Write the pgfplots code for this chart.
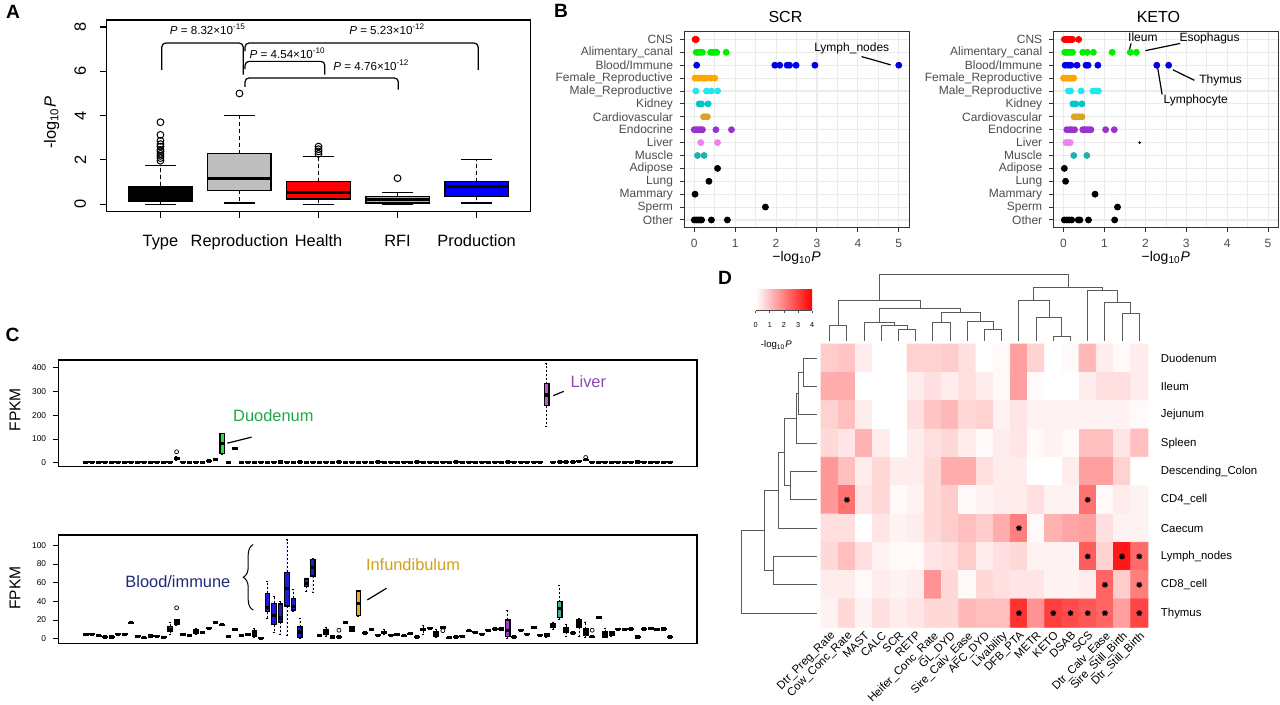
\documentclass[border=0pt]{standalone}
\usepackage{fontspec}
\setmainfont{Liberation Sans}
\usepackage{pgfplots}
\pgfplotsset{compat=1.18}
\usepgfplotslibrary{statistics}
\usetikzlibrary{decorations.pathreplacing,plotmarks}

\definecolor{g20}{HTML}{333333}
\definecolor{g30}{HTML}{4D4D4D}
\definecolor{g92}{HTML}{EBEBEB}
\definecolor{dend}{HTML}{5A5A5A}
\definecolor{aGray}{HTML}{BEBEBE}
\definecolor{aOra}{HTML}{FFA500}
\definecolor{cCNS}{HTML}{FF0000}
\definecolor{cAli}{HTML}{00EE00}
\definecolor{cBlo}{HTML}{0000E6}
\definecolor{cFem}{HTML}{FFA500}
\definecolor{cMal}{HTML}{22E6F0}
\definecolor{cKid}{HTML}{00C5CD}
\definecolor{cCar}{HTML}{DAA520}
\definecolor{cEnd}{HTML}{9A32CD}
\definecolor{cLiv}{HTML}{EE82EE}
\definecolor{cMus}{HTML}{20B2AA}
\definecolor{xGrn}{HTML}{33DD33}
\definecolor{xLiv}{HTML}{C455D6}
\definecolor{xBrn}{HTML}{7A2E2E}
\definecolor{xDgr}{HTML}{2CA02C}
\definecolor{xBlu}{HTML}{1C1CD6}
\definecolor{xOra}{HTML}{F5A623}
\definecolor{xOlv}{HTML}{6E5A3A}
\definecolor{xTea}{HTML}{2A9D8F}
\definecolor{xPur}{HTML}{A03CD0}
\definecolor{xTeb}{HTML}{3AB0A6}
\definecolor{tGrn}{HTML}{1DA84B}
\definecolor{tPur}{HTML}{8E4AB5}
\definecolor{tNav}{HTML}{1F2A78}
\definecolor{tGld}{HTML}{D4A017}

\newcommand\fsA{\fontsize{8.2}{9.8}\selectfont}
\newcommand\fsP{\fontsize{5.8}{7}\selectfont}
\newcommand\fsB{\fontsize{6}{7.2}\selectfont}
\newcommand\fsC{\fontsize{4.2}{5}\selectfont}
\newcommand\fsD{\fontsize{5.7}{6.8}\selectfont}

% one box of panel C: position, lower whisker, Q1, median, Q3, upper whisker
\newcommand\bx[7][black]{\addplot[draw=black, line width=0.7pt, fill=#1,
  boxplot prepared={draw position=#2, lower whisker=#3, lower quartile=#4,
  median=#5, upper quartile=#6, upper whisker=#7}] coordinates {};}

\pgfplotsset{
  /pgf/number format/assume math mode=true,
  bpan/.style={anchor=north west, scale only axis, width=112.5pt, height=98pt,
    xmin=-0.25, xmax=5.25, ymin=0.4, ymax=15.6,
    xtick={0,1,2,3,4,5}, minor xtick={0.5,1.5,2.5,3.5,4.5}, ytick={1,...,15},
    yticklabels={Other,Sperm,Mammary,Lung,Adipose,Muscle,Liver,Endocrine,Cardiovascular,Kidney,Male\_Reproductive,Female\_Reproductive,Blood/Immune,Alimentary\_canal,CNS},
    grid=both, major grid style={g92, line width=0.55pt}, minor grid style={g92, line width=0.3pt},
    axis line style={g20, line width=0.5pt}, tick style={g20, line width=0.5pt},
    tick align=outside, major tick length=2pt, minor tick length=0pt,
    xtick pos=bottom, ytick pos=left,
    ticklabel style={font=\fsB, text=g30}, clip=false,
    every axis plot/.append style={only marks, mark=*, mark size=1.5pt}},
  cpan/.style={anchor=north west, scale only axis, width=319.1pt,
    xmin=-3.14, xmax=95.14, xtick=\empty, ytick pos=left, tick align=outside,
    major tick length=2.8pt, tick style={black, line width=0.4pt},
    axis line style={line width=0.7pt}, yticklabel style={font=\fsC}, clip=false,
    boxplot/draw direction=y,
    boxplot/box extend=0.68, boxplot/whisker extend=0.4,
    boxplot/every whisker/.style={dash pattern=on 1pt off 1pt, line width=0.3pt},
    boxplot/every median/.style={line width=1.6pt}},
}

\begin{document}
\begin{tikzpicture}
\useasboundingbox (0,0) rectangle (640pt,-352.5pt);
\fill[white] (0,0) rectangle (640pt,-352.5pt);

\node[font=\bfseries\fontsize{9.6}{11}\selectfont] at (6.5pt,-5.9pt) {A};
\node[font=\bfseries\fontsize{9.6}{11}\selectfont] at (280.5pt,-5.5pt) {B};
\node[font=\bfseries\fontsize{9.6}{11}\selectfont] at (6.3pt,-167.5pt) {C};
\node[font=\bfseries\fontsize{9.6}{11}\selectfont] at (362.5pt,-139pt) {D};

% ---------------- A
\begin{axis}[at={(53.35pt,-10pt)}, anchor=north west, scale only axis,
  width=211.8pt, height=95.6pt,
  xmin=0.32, xmax=5.68, ymin=-0.32, ymax=8.32,
  xtick={1,2,3,4,5}, xticklabels={Type,Reproduction,Health,RFI,Production},
  ytick={0,2,4,6,8}, xtick pos=bottom, ytick pos=left,
  tick align=outside, major tick length=3.3pt,
  tick style={black, line width=0.6pt}, axis line style={line width=0.6pt},
  ticklabel style={font=\fsA},
  xticklabel style={yshift=-5pt},
  yticklabel style={rotate=90, anchor=south, yshift=3.5pt},
  clip=false,
  boxplot/draw direction=y,
  boxplot/box extend=0.8, boxplot/whisker extend=0,
  boxplot/every whisker/.style={dash pattern=on 2pt off 1.5pt},
  boxplot/every median/.style={line width=1.5pt}]
\addplot[draw=black, line width=0.6pt, fill=black, boxplot prepared={draw position=1,
  lower whisker=0, lower quartile=0.12, median=0.35, upper quartile=0.8, upper whisker=1.75}] coordinates {};
\addplot[draw=black, line width=0.6pt, fill=aGray, boxplot prepared={draw position=2,
  lower whisker=0.05, lower quartile=0.62, median=1.14, upper quartile=2.27, upper whisker=3.99}] coordinates {};
\addplot[draw=black, line width=0.6pt, fill=red, boxplot prepared={draw position=3,
  lower whisker=0, lower quartile=0.23, median=0.54, upper quartile=1.02, upper whisker=2.15}] coordinates {};
\addplot[draw=black, line width=0.6pt, fill=aOra, boxplot prepared={draw position=4,
  lower whisker=0, lower quartile=0.05, median=0.2, upper quartile=0.35, upper whisker=0.53}] coordinates {};
\addplot[draw=black, line width=0.6pt, fill=blue, boxplot prepared={draw position=5,
  lower whisker=0.05, lower quartile=0.35, median=0.8, upper quartile=1.02, upper whisker=2.0}] coordinates {};
\addplot[only marks, mark=-, mark size=7.9pt, mark options={line width=0.6pt}] coordinates
  {(1,0) (1,1.75) (2,0.05) (2,3.99) (3,0) (3,2.15) (4,0) (4,0.53) (5,0.05) (5,2.0)};
\addplot[only marks, mark=o, mark size=1.7pt, mark options={line width=0.5pt}] coordinates
  {(1,1.96) (1,2.08) (1,2.18) (1,2.27) (1,2.38) (1,2.45) (1,2.6) (1,2.71) (1,2.86) (1,3.13) (1,3.7)
   (2,5.0) (3,2.27) (3,2.38) (3,2.48) (3,2.6) (4,1.17)};
\draw[line width=0.6pt, rounded corners=2pt] (axis cs:1.017,6.07) -- (axis cs:1.017,7.28) -- (axis cs:2.047,7.28) -- (axis cs:2.047,5.85);
\draw[line width=0.6pt, rounded corners=2pt] (axis cs:2.07,6.9) -- (axis cs:2.07,7.28) -- (axis cs:5.02,7.28) -- (axis cs:5.02,6.07);
\draw[line width=0.6pt, rounded corners=2pt] (axis cs:2.07,6.1) -- (axis cs:2.07,6.45) -- (axis cs:3.08,6.45) -- (axis cs:3.08,5.85);
\draw[line width=0.6pt, rounded corners=2pt] (axis cs:2.07,5.3) -- (axis cs:2.07,5.70) -- (axis cs:4.01,5.70) -- (axis cs:4.01,5.17);
\node[font=\fsP] at (axis cs:1.6,7.91) {\textit{P} = 8.32×10\textsuperscript{-15}};
\node[font=\fsP] at (axis cs:3.87,7.91) {\textit{P} = 5.23×10\textsuperscript{-12}};
\node[font=\fsP] at (axis cs:2.61,6.82) {\textit{P} = 4.54×10\textsuperscript{-10}};
\node[font=\fsP] at (axis cs:3.67,6.27) {\textit{P} = 4.76×10\textsuperscript{-12}};
\node[font=\fsA, rotate=90] at (axis cs:-0.376,3.67) {-log\textsubscript{10}\textit{P}};
\end{axis}

% ---------------- B : SCR
\begin{axis}[bpan, at={(342pt,-15.85pt)}]
\addplot[cCNS] coordinates {(0.02,15) (0.05,15)};
\addplot[cAli] coordinates {(0.05,14) (0.1,14) (0.15,14) (0.2,14) (0.4,14) (0.45,14) (0.5,14) (0.55,14) (0.78,14)};
\addplot[cBlo] coordinates {(0.06,13) (1.97,13) (2.09,13) (2.27,13) (2.33,13) (2.49,13) (2.95,13) (5.0,13)};
\addplot[cFem] coordinates {(0.02,12) (0.07,12) (0.12,12) (0.2,12) (0.25,12) (0.3,12) (0.4,12) (0.5,12)};
\addplot[cMal] coordinates {(0.04,11) (0.3,11) (0.42,11) (0.57,11)};
\addplot[cKid] coordinates {(0.12,10) (0.18,10) (0.34,10)};
\addplot[cCar] coordinates {(0.23,9) (0.28,9) (0.32,9)};
\addplot[cEnd] coordinates {(0.0,8) (0.05,8) (0.1,8) (0.15,8) (0.2,8) (0.53,8) (0.91,8)};
\addplot[cLiv] coordinates {(0.16,7) (0.57,7)};
\addplot[cMus] coordinates {(0.08,6) (0.24,6)};
\addplot[black] coordinates {(0.57,5)};
\addplot[black] coordinates {(0.36,4)};
\addplot[black] coordinates {(0.02,3)};
\addplot[black] coordinates {(1.74,2)};
\addplot[black] coordinates {(0,1) (0.05,1) (0.1,1) (0.15,1) (0.18,1) (0.42,1) (0.81,1)};
\node[font=\fontsize{8}{9.6}\selectfont] at (axis cs:2.23,16.74) {SCR};
\node[font=\fontsize{7}{8.4}\selectfont] at (axis cs:2.5,-1.95) {−log\textsubscript{10}\textit{P}};
\node[font=\fontsize{6}{7.2}\selectfont] at (axis cs:3.85,14.31) {Lymph\_nodes};
\draw[line width=0.6pt] (axis cs:4.09,13.67) -- (axis cs:4.80,13.03);
\end{axis}

% ---------------- B : KETO
\begin{axis}[bpan, at={(526.65pt,-15.85pt)}]
\addplot[cCNS] coordinates {(0.02,15) (0.06,15) (0.1,15) (0.14,15) (0.18,15) (0.22,15) (0.37,15)};
\addplot[cAli] coordinates {(0.03,14) (0.08,14) (0.12,14) (0.17,14) (0.22,14) (0.47,14) (0.58,14) (0.73,14) (1.19,14) (1.63,14) (1.78,14)};
\addplot[cBlo] coordinates {(0.04,13) (0.12,13) (0.18,13) (0.33,13) (0.55,13) (0.6,13) (0.84,13) (2.28,13) (2.57,13)};
\addplot[cFem] coordinates {(0.0,12) (0.05,12) (0.1,12) (0.15,12) (0.2,12) (0.25,12)};
\addplot[cMal] coordinates {(0.12,11) (0.17,11) (0.43,11) (0.72,11) (0.8,11) (0.85,11)};
\addplot[cKid] coordinates {(0.23,10) (0.3,10) (0.45,10)};
\addplot[cCar] coordinates {(0.26,9) (0.32,9) (0.38,9) (0.45,9)};
\addplot[cEnd] coordinates {(0.08,8) (0.15,8) (0.2,8) (0.27,8) (0.47,8) (0.52,8) (0.57,8) (0.62,8) (0.67,8) (1.03,8) (1.24,8)};
\addplot[cLiv] coordinates {(0.06,7) (0.1,7) (0.16,7)};
\addplot[black, mark size=0.4pt] coordinates {(1.86,7)};
\addplot[cMus] coordinates {(0.25,6) (0.57,6)};
\addplot[black] coordinates {(0.02,5)};
\addplot[black] coordinates {(0.05,4)};
\addplot[black] coordinates {(0.77,3)};
\addplot[black] coordinates {(1.32,2)};
\addplot[black] coordinates {(0.02,1) (0.08,1) (0.14,1) (0.2,1) (0.36,1) (0.4,1) (0.61,1) (1.25,1)};
\node[font=\fontsize{8}{9.6}\selectfont] at (axis cs:2.32,16.74) {KETO};
\node[font=\fontsize{7}{8.4}\selectfont] at (axis cs:2.5,-1.95) {−log\textsubscript{10}\textit{P}};
\node[font=\fontsize{6}{7.2}\selectfont] at (axis cs:1.94,15.15) {Ileum};
\draw[line width=0.6pt] (axis cs:1.65,14.69) -- (axis cs:1.61,14.19);
\node[font=\fontsize{6}{7.2}\selectfont] at (axis cs:3.57,15.08) {Esophagus};
\draw[line width=0.6pt] (axis cs:2.85,14.69) -- (axis cs:2.0,14.13);
\node[font=\fontsize{6}{7.2}\selectfont] at (axis cs:3.84,11.8) {Thymus};
\draw[line width=0.6pt] (axis cs:2.67,12.65) -- (axis cs:3.2,11.83);
\node[font=\fontsize{6}{7.2}\selectfont] at (axis cs:3.23,10.29) {Lymphocyte};
\draw[line width=0.6pt] (axis cs:2.30,12.83) -- (axis cs:2.41,10.73);
\end{axis}

% ---------------- C : top (liver gene)
\begin{axis}[cpan, at={(29.4pt,-180pt)}, height=53.35pt,
  ymin=-17, ymax=433, ytick={0,100,200,300,400}]
\bx{1}{0}{0.2}{1}{2}{4}\bx{2}{0}{0.2}{1}{2}{4}\bx{3}{0}{0.2}{1}{2}{4}\bx{4}{0}{0.2}{1}{2}{4}
\bx{5}{0}{0.2}{1}{2}{4}\bx{6}{0}{0.2}{1}{2}{4}\bx{7}{0}{0.2}{1}{2}{4}\bx{8}{0}{0.2}{1}{2}{4}
\bx{9}{0}{0.2}{1}{2}{4}\bx{10}{0}{0.2}{1}{2}{4}\bx{11}{0}{0.2}{1}{2}{4}\bx{12}{0}{0.2}{1}{2}{4}
\bx{13}{0}{0.2}{1}{2}{4}\bx{14}{0}{0.2}{1}{2}{4}\bx{15}{10}{15}{18}{22}{28}\bx{16}{0}{0.2}{1}{2}{4}
\bx{17}{0}{0.2}{1}{2}{4}\bx{18}{0}{0.2}{1}{2}{4}\bx{19}{0}{0.5}{1.5}{3}{5}\bx{20}{3}{5}{7}{9}{11}
\bx{21}{8}{10}{12}{14}{16}\bx[xGrn]{22}{35}{38}{80}{122}{125}\bx{23}{0}{0.2}{1}{2}{4}\bx{24}{57}{58}{60}{62}{64}
\bx{25}{0}{0.2}{1}{2}{4}\bx{26}{0}{0.2}{1}{2}{4}\bx{27}{0}{0.2}{1}{2}{4}\bx{28}{0}{0.2}{1}{2}{4}
\bx{29}{0}{0.2}{1}{2}{4}\bx{30}{0}{0.2}{1}{2}{4}\bx{31}{0}{1}{3}{5}{7}\bx{32}{0}{0.2}{1}{2}{4}
\bx{33}{0}{0.2}{1}{2}{4}\bx{34}{0}{1}{3}{5}{7}\bx{35}{0}{0.2}{1}{2}{4}\bx{36}{0}{0.2}{1}{2}{4}
\bx{37}{0}{0.2}{1}{2}{4}\bx{38}{0}{0.2}{1}{2}{4}\bx{39}{0}{0.2}{1}{2}{4}\bx{40}{0}{1}{3}{5}{7}
\bx{41}{0}{0.2}{1}{2}{4}\bx{42}{0}{0.2}{1}{2}{4}\bx{43}{0}{0.2}{1}{2}{4}\bx{44}{0}{0.2}{1}{2}{4}
\bx{45}{0}{0.2}{1}{2}{4}\bx{46}{0}{1}{3}{5}{7}\bx{47}{0}{0.2}{1}{2}{4}\bx{48}{0}{0.2}{1}{2}{4}
\bx{49}{0}{0.2}{1}{2}{4}\bx{50}{0}{0.2}{1}{2}{4}\bx{51}{0}{0.2}{1}{2}{4}\bx{52}{0}{1}{3}{5}{7}
\bx{53}{0}{0.2}{1}{2}{4}\bx{54}{0}{0.2}{1}{2}{4}\bx{55}{0}{0.2}{1}{2}{4}\bx{56}{0}{0.2}{1}{2}{4}
\bx{57}{0}{0.2}{1}{2}{4}\bx{58}{0}{1}{3}{5}{7}\bx{59}{0}{0.2}{1}{2}{4}\bx{60}{0}{0.2}{1}{2}{4}
\bx{61}{0}{0.2}{1}{2}{4}\bx{62}{0}{0.2}{1}{2}{4}\bx{63}{0}{0.2}{1}{2}{4}\bx{64}{0}{0.2}{1}{2}{4}
\bx{65}{0}{0.2}{1}{2}{4}\bx{66}{0}{1}{3}{5}{7}\bx{67}{0}{0.2}{1}{2}{4}\bx{68}{0}{0.2}{1}{2}{4}
\bx{69}{0}{0.2}{1}{2}{4}\bx{70}{0}{0.2}{1}{2}{4}\bx{71}{0}{0.2}{1}{2}{4}\bx[xLiv]{72}{152}{241}{285}{333}{418}
\bx{73}{0}{0.2}{1}{2}{4}\bx{74}{0}{1}{3}{5}{7}\bx{75}{0}{1}{3}{5}{7}\bx{76}{0}{1}{3}{5}{7}
\bx{77}{3}{5}{6}{8}{10}\bx{78}{8}{10}{12}{14}{16}\bx{79}{0}{0.2}{1}{2}{4}\bx{80}{0}{0.2}{1}{2}{4}
\bx{81}{0}{0.2}{1}{2}{4}\bx{82}{0}{0.2}{1}{2}{4}\bx{83}{0}{0.2}{1}{2}{4}\bx{84}{0}{0.2}{1}{2}{4}
\bx{85}{0}{0.2}{1}{2}{4}\bx{86}{0}{1}{3}{5}{7}\bx{87}{0}{0.2}{1}{2}{4}\bx{88}{0}{0.2}{1}{2}{4}
\bx{89}{0}{0.2}{1}{2}{4}\bx{90}{0}{0.2}{1}{2}{4}\bx{91}{0}{0.2}{1}{2}{4}
\addplot[only marks, mark=o, mark size=1pt, mark options={line width=0.35pt}] coordinates {(15,46) (78,22)};
\node[font=\fontsize{8.2}{9.8}\selectfont, text=tGrn] at (axis cs:29.9,198) {Duodenum};
\draw[line width=0.6pt] (axis cs:22.8,82.2) -- (axis cs:26.55,107.6);
\node[font=\fontsize{8.2}{9.8}\selectfont, text=tPur] at (axis cs:78.4,343) {Liver};
\draw[line width=0.6pt] (axis cs:73.0,282.6) -- (axis cs:74.62,300.8);
\node[font=\fontsize{7.8}{9.4}\selectfont, rotate=90] at (axis cs:-9.9,223) {FPKM};
\end{axis}

% ---------------- C : bottom (immune gene)
\begin{axis}[cpan, at={(29.4pt,-267.5pt)}, height=54.15pt,
  ymin=-5, ymax=111, ytick={0,20,40,60,80,100}]
\bx{1}{3.5}{3.8}{4.3}{4.8}{5.2}\bx{2}{4}{4.2}{4.7}{5.2}{5.5}\bx{3}{2.5}{2.8}{3.2}{3.6}{4}\bx{4}{1.2}{1.4}{1.8}{2.2}{2.5}
\bx{5}{1.2}{1.4}{1.8}{2.2}{2.5}\bx{6}{4}{4.2}{4.7}{5.2}{5.5}\bx{7}{4}{4.2}{4.7}{5.2}{5.5}\bx{8}{16}{16.4}{16.9}{17.4}{18}
\bx{9}{1.8}{2}{2.5}{3}{3.3}\bx{10}{0.5}{0.7}{1.1}{1.5}{1.8}\bx{11}{2.2}{2.4}{2.9}{3.4}{3.7}\bx{12}{1.8}{2}{2.5}{3}{3.3}
\bx{13}{0.8}{1}{1.4}{1.8}{2}\bx[xBrn]{14}{5}{8}{10}{13}{17}\bx[xDgr]{15}{14}{15}{17.5}{20}{21}\bx{16}{3.6}{3.8}{4.3}{4.8}{5.2}
\bx{17}{3}{3.2}{3.6}{4}{4.4}\bx[xDgr]{18}{5}{6}{8}{10}{11}\bx{19}{5.8}{6}{6.5}{7}{7.3}\bx{20}{10.5}{10.7}{11.2}{11.7}{12}
\bx{21}{16.2}{16.4}{16.9}{17.4}{17.7}\bx{22}{14}{14.3}{14.8}{15.3}{15.6}\bx{23}{1.8}{2}{2.5}{3}{3.3}\bx{24}{9}{9.2}{9.7}{10.2}{10.5}
\bx{25}{2.5}{2.7}{3.2}{3.7}{4}\bx{26}{3.6}{3.8}{4.3}{4.8}{5.1}\bx[xDgr]{27}{1}{3}{5.5}{8}{11}\bx{28}{0}{0}{0.3}{0.8}{1}
\bx[xBlu]{29}{22}{28.8}{33}{48.6}{61}\bx[xBlu]{30}{7}{15}{25}{37.8}{45}\bx[xBlu]{31}{5}{18}{22}{37}{40}\bx[xBlu]{32}{3.6}{35}{54}{71}{106}
\bx[xBlu]{33}{29}{30.6}{34}{43.2}{53}\bx[xBlu]{34}{0}{1}{7}{12.6}{21.6}\bx[xBlu]{35}{51}{56}{59}{64}{65}\bx[xBlu]{36}{50}{67}{76}{85}{86}
\bx{37}{3}{3.2}{3.6}{4}{4.3}\bx{38}{3}{4.7}{7}{9.7}{12}\bx{39}{1.2}{1.4}{1.8}{2.2}{2.5}\bx{40}{1.2}{1.4}{1.8}{2.2}{2.5}
\bx{41}{16.6}{16.8}{17.3}{17.8}{18.1}\bx[xOlv]{42}{7.5}{8}{10}{12.6}{13}\bx[xOra]{43}{24}{24.5}{37.8}{51}{51.5}\bx{44}{5.5}{5.7}{6.1}{6.6}{7}
\bx{45}{9}{9.2}{9.7}{10.2}{10.5}\bx{46}{3}{3.2}{3.6}{4}{4.3}\bx{47}{4.5}{6}{6.8}{7.6}{10}\bx{48}{3}{3.2}{3.6}{4}{4.3}
\bx{49}{3.6}{3.8}{4.3}{4.8}{5.1}\bx{50}{2.5}{2.8}{3.2}{3.6}{4}\bx{51}{4.8}{5}{5.4}{5.8}{6.2}\bx{52}{1.2}{1.4}{1.8}{2.2}{2.5}
\bx{53}{5}{8.5}{9.7}{11}{14}\bx{54}{10.5}{10.7}{11.2}{11.7}{12}\bx[xTea]{55}{1}{2.5}{5}{7.2}{10}\bx{56}{11.2}{11.4}{11.9}{12.4}{12.8}
\bx{57}{0.5}{0.7}{1.1}{1.5}{1.8}\bx{58}{1.2}{1.4}{1.8}{2.2}{2.5}\bx{59}{1.8}{2}{2.5}{3}{3.3}\bx{60}{7.6}{7.8}{8.3}{8.8}{9.1}
\bx{61}{6.1}{6.3}{6.8}{7.3}{7.6}\bx{62}{4}{4.2}{4.7}{5.2}{5.5}\bx{63}{8.3}{8.5}{9}{9.5}{9.8}\bx{64}{9.7}{9.9}{10.4}{10.9}{11.2}
\bx{65}{9.7}{9.9}{10.4}{10.9}{11.2}\bx[xPur]{66}{0.5}{2.5}{9}{19.8}{30}\bx{67}{1.2}{1.4}{1.8}{2.2}{2.5}\bx{68}{8.3}{8.5}{9}{9.5}{9.8}
\bx{69}{4}{4.2}{4.7}{5.2}{5.5}\bx{70}{11.2}{11.4}{11.9}{12.4}{12.7}\bx{71}{3}{3.2}{3.6}{4}{4.3}\bx{72}{1}{2}{3}{5}{6}
\bx{73}{10}{12}{14}{16}{18}\bx[xTeb]{74}{20.5}{22.7}{32.4}{39.6}{57.6}\bx{75}{2}{7}{9}{12}{15}\bx{76}{5.5}{5.7}{6.1}{6.6}{7}
\bx{77}{2}{12.6}{18}{20.5}{22}\bx{78}{1}{3.6}{8}{10.8}{18}\bx{79}{1.6}{1.8}{2.2}{2.6}{3}\bx{80}{22}{22.3}{22.7}{23.2}{23.5}
\bx{81}{1}{1.8}{5}{7.2}{11}\bx{82}{3}{3.5}{5}{7}{8}\bx{83}{9.5}{9.7}{10.1}{10.6}{10.9}\bx{84}{9.5}{9.7}{10.1}{10.6}{10.9}
\bx{85}{9.8}{10}{10.4}{10.9}{11.2}\bx{86}{1.2}{1.4}{1.8}{2.2}{2.5}\bx{87}{9.8}{10}{10.4}{10.9}{11.2}\bx{88}{10.2}{10.4}{10.8}{11.3}{11.6}
\bx{89}{9.1}{9.3}{9.7}{10.2}{10.5}\bx{90}{9.8}{10}{10.4}{10.9}{11.2}\bx{91}{1.2}{1.4}{1.8}{2.2}{2.5}
\addplot[only marks, mark=o, mark size=1pt, mark options={line width=0.35pt}] coordinates {(15,33) (40,9) (56,8.5) (79,9)};
\node[font=\fontsize{8.2}{9.8}\selectfont, text=tNav] at (axis cs:15.2,60.8) {Blood/immune};
\draw[line width=0.5pt, decorate, decoration={brace, amplitude=5pt}] (axis cs:26.8,30.6) -- (axis cs:26.8,100.8);
\node[font=\fontsize{8.2}{9.8}\selectfont, text=tGld] at (axis cs:51.4,79.2) {Infundibulum};
\draw[line width=0.6pt] (axis cs:44.36,41.4) -- (axis cs:47.33,54.0);
\node[font=\fontsize{7.8}{9.4}\selectfont, rotate=90] at (axis cs:-9.9,54.3) {FPKM};
\end{axis}

% ---------------- D : colour key
\begin{axis}[at={(377.85pt,-145pt)}, anchor=north west, scale only axis,
  width=28.2pt, height=10.35pt, xmin=0, xmax=4, ymin=0, ymax=1,
  axis x line*=bottom, axis y line=none, axis line style={-, line width=0.4pt, black!70},
  xtick={0,1,2,3,4}, tick align=outside, major tick length=1.3pt,
  tick style={black!70, line width=0.4pt},
  xticklabel style={font=\fontsize{3.6}{4.3}\selectfont, yshift=-1pt}, clip=false]
\fill[left color=white, right color=red] (axis cs:0,0.07) rectangle (axis cs:4,1);
\node[font=\fontsize{4.8}{5.8}\selectfont] at (axis cs:1.47,-1.66) {-log\textsubscript{10}\textit{P}};
\end{axis}

% ---------------- D : heatmap
\begin{axis}[at={(410.55pt,-172pt)}, anchor=north west, scale only axis,
  width=163.4pt, height=141.65pt,
  xmin=0.5, xmax=19.5, ymin=0.5, ymax=10.5, y dir=reverse, enlargelimits=false,
  axis line style={draw=none}, major tick length=0pt,
  xtick={1,...,19},
  xticklabels={Dtr\_Preg\_Rate,Cow\_Conc\_Rate,MAST,CALC,SCR,RETP,Heifer\_Conc\_Rate,GL\_DYD,Sire\_Calv\_Ease,AFC\_DYD,Livability,DFB\_PTA,METR,KETO,DSAB,SCS,Dtr\_Calv\_Ease,Sire\_Still\_Birth,Dtr\_Still\_Birth},
  xticklabel style={rotate=45, anchor=north east, font=\fsD, inner sep=1pt},
  ytick={1,...,10},
  yticklabels={Duodenum,Ileum,Jejunum,Spleen,Descending\_Colon,CD4\_cell,Caecum,Lymph\_nodes,CD8\_cell,Thymus},
  ytick pos=right, yticklabel pos=right, yticklabel style={anchor=west, font=\fsD, xshift=3pt},
  colormap={wr}{color=(white) color=(red)}, point meta min=0, point meta max=4,
  clip=false]
\addplot[matrix plot*, mesh/cols=19, point meta=explicit] table[meta=c, row sep=\\] {
x y c\\
1 1 0.8\\ 2 1 0.9\\ 3 1 0.3\\ 4 1 0\\ 5 1 0\\ 6 1 0.7\\ 7 1 0.7\\ 8 1 0.8\\ 9 1 0.5\\ 10 1 0\\ 11 1 0.1\\ 12 1 1.5\\ 13 1 0.7\\ 14 1 0\\ 15 1 0.1\\ 16 1 1.1\\ 17 1 0.3\\ 18 1 0.1\\ 19 1 0.3\\
1 2 1.3\\ 2 2 1.3\\ 3 2 0\\ 4 2 0\\ 5 2 0\\ 6 2 0.3\\ 7 2 0.5\\ 8 2 0.3\\ 9 2 0.5\\ 10 2 0.3\\ 11 2 0.1\\ 12 2 1.5\\ 13 2 0.1\\ 14 2 0\\ 15 2 0\\ 16 2 0.3\\ 17 2 0.5\\ 18 2 0.5\\ 19 2 0.3\\
1 3 0.7\\ 2 3 1.0\\ 3 3 0.3\\ 4 3 0\\ 5 3 0\\ 6 3 0.5\\ 7 3 0.9\\ 8 3 1.1\\ 9 3 0.6\\ 10 3 0.7\\ 11 3 0.2\\ 12 3 0.4\\ 13 3 0.2\\ 14 3 0.2\\ 15 3 0.2\\ 16 3 0.2\\ 17 3 0.2\\ 18 3 0.2\\ 19 3 0.1\\
1 4 0.6\\ 2 4 0.4\\ 3 4 1.2\\ 4 4 0.3\\ 5 4 0\\ 6 4 0.3\\ 7 4 0.5\\ 8 4 0.6\\ 9 4 0.3\\ 10 4 0.1\\ 11 4 0.3\\ 12 4 0.4\\ 13 4 0.1\\ 14 4 0.2\\ 15 4 0.1\\ 16 4 1.0\\ 17 4 1.0\\ 18 4 0.4\\ 19 4 1.0\\
1 5 1.6\\ 2 5 1.0\\ 3 5 0.3\\ 4 5 0.6\\ 5 5 0.3\\ 6 5 0.3\\ 7 5 0.6\\ 8 5 1.3\\ 9 5 1.3\\ 10 5 0.5\\ 11 5 0.3\\ 12 5 0.3\\ 13 5 0\\ 14 5 0\\ 15 5 0.3\\ 16 5 1.5\\ 17 5 1.5\\ 18 5 0.7\\ 19 5 0\\
1 6 1.6\\ 2 6 2.2\\ 3 6 0.4\\ 4 6 0.6\\ 5 6 0.1\\ 6 6 0.2\\ 7 6 0.6\\ 8 6 0.8\\ 9 6 0.1\\ 10 6 0.2\\ 11 6 0.3\\ 12 6 0.3\\ 13 6 0.5\\ 14 6 0.2\\ 15 6 0.2\\ 16 6 2.2\\ 17 6 0.1\\ 18 6 0.3\\ 19 6 0.2\\
1 7 0.5\\ 2 7 0.5\\ 3 7 0\\ 4 7 0.4\\ 5 7 0.2\\ 6 7 0.3\\ 7 7 0.6\\ 8 7 0.8\\ 9 7 1.0\\ 10 7 0.8\\ 11 7 1.3\\ 12 7 2.0\\ 13 7 0.1\\ 14 7 1.2\\ 15 7 1.4\\ 16 7 1.5\\ 17 7 0.5\\ 18 7 0.2\\ 19 7 0.2\\
1 8 0.6\\ 2 8 1.0\\ 3 8 0.5\\ 4 8 0.2\\ 5 8 0.1\\ 6 8 0.1\\ 7 8 0.4\\ 8 8 0.5\\ 9 8 0.8\\ 10 8 0.3\\ 11 8 0.5\\ 12 8 0.6\\ 13 8 0.2\\ 14 8 0.2\\ 15 8 0.2\\ 16 8 2.5\\ 17 8 0.7\\ 18 8 3.6\\ 19 8 2.3\\
1 9 0.3\\ 2 9 0.3\\ 3 9 0.1\\ 4 9 0.3\\ 5 9 0.2\\ 6 9 0.3\\ 7 9 1.7\\ 8 9 0.6\\ 9 9 0.1\\ 10 9 0.6\\ 11 9 0.5\\ 12 9 0.4\\ 13 9 0.4\\ 14 9 0.2\\ 15 9 0.2\\ 16 9 0.3\\ 17 9 2.4\\ 18 9 0.8\\ 19 9 2.0\\
1 10 0.2\\ 2 10 0.6\\ 3 10 0.2\\ 4 10 0.5\\ 5 10 0.3\\ 6 10 0.4\\ 7 10 0.6\\ 8 10 0.6\\ 9 10 1.1\\ 10 10 1.0\\ 11 10 1.0\\ 12 10 3.2\\ 13 10 1.7\\ 14 10 3.0\\ 15 10 2.8\\ 16 10 2.6\\ 17 10 2.4\\ 18 10 1.5\\ 19 10 2.9\\
};
\addplot[only marks, mark=10-pointed star, mark size=1.5pt, black] coordinates
  {(2,6) (16,6) (12,7) (16,8) (18,8) (19,8) (17,9) (19,9) (12,10) (14,10) (15,10) (16,10) (17,10) (19,10)};
% column dendrogram
\addplot[dend, line width=0.5pt, unbounded coords=jump] coordinates {
 (1,0.394) (1,-0.146) (2,-0.146) (2,0.394) (nan,nan)
 (5,0.394) (5,-0.029) (6,-0.029) (6,0.394) (nan,nan)
 (4,0.394) (4,-0.146) (5.5,-0.146) (5.5,-0.029) (nan,nan)
 (3,0.394) (3,-0.266) (4.75,-0.266) (4.75,-0.146) (nan,nan)
 (7,0.394) (7,-0.266) (8,-0.266) (8,0.394) (nan,nan)
 (10,0.394) (10,-0.029) (11,-0.029) (11,0.394) (nan,nan)
 (9,0.394) (9,-0.287) (10.5,-0.287) (10.5,-0.029) (nan,nan)
 (7.5,-0.266) (7.5,-0.619) (9.75,-0.619) (9.75,-0.287) (nan,nan)
 (3.875,-0.266) (3.875,-0.760) (8.625,-0.760) (8.625,-0.619) (nan,nan)
 (1.5,-0.146) (1.5,-1.018) (6.25,-1.018) (6.25,-0.760) (nan,nan)
 (14,0.394) (14,0.218) (15,0.218) (15,0.394) (nan,nan)
 (13,0.394) (13,-0.442) (14.5,-0.442) (14.5,0.218) (nan,nan)
 (12,0.394) (12,-1.018) (13.75,-1.018) (13.75,-0.442) (nan,nan)
 (18,0.394) (18,-0.584) (19,-0.584) (19,0.394) (nan,nan)
 (17,0.394) (17,-0.972) (18.5,-0.972) (18.5,-0.584) (nan,nan)
 (16,0.394) (16,-1.406) (17.75,-1.406) (17.75,-0.972) (nan,nan)
 (12.875,-1.018) (12.875,-1.501) (16.875,-1.501) (16.875,-1.406) (nan,nan)
 (3.875,-1.018) (3.875,-1.936) (14.875,-1.936) (14.875,-1.501)
};
% row dendrogram
\addplot[dend, line width=0.5pt, unbounded coords=jump] coordinates {
 (0.267,1) (-0.541,1) (-0.541,2) (0.267,2) (nan,nan)
 (-0.541,1.5) (-0.808,1.5) (-0.808,3) (0.267,3) (nan,nan)
 (-0.808,2.25) (-0.953,2.25) (-0.953,4) (0.267,4) (nan,nan)
 (0.267,5) (-1.285,5) (-1.285,6) (0.267,6) (nan,nan)
 (-0.953,3.125) (-1.640,3.125) (-1.640,5.5) (-1.285,5.5) (nan,nan)
 (-1.640,4.3125) (-1.953,4.3125) (-1.953,7) (0.267,7) (nan,nan)
 (0.267,8) (-2.262,8) (-2.262,9) (0.267,9) (nan,nan)
 (-1.953,5.656) (-2.785,5.656) (-2.785,8.5) (-2.262,8.5) (nan,nan)
 (-2.785,7.078) (-4.134,7.078) (-4.134,10) (0.267,10)
};
\end{axis}
\end{tikzpicture}
\end{document}
